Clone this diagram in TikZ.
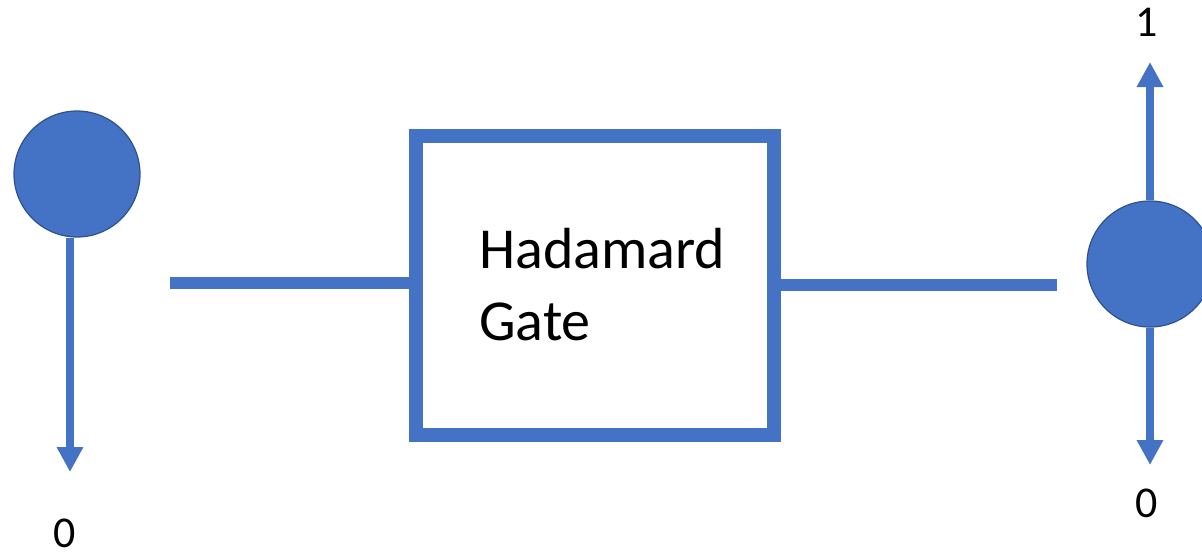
\documentclass[tikz,border=0pt]{standalone}
\usepackage{fontspec}
\setmainfont{Carlito}
\usetikzlibrary{arrows.meta}
\definecolor{qblue}{HTML}{4472C4}
\definecolor{qedge}{HTML}{2F528F}
\tikzset{
  qubit/.style={circle, fill=qblue, draw=qedge, line width=1.2pt, minimum size=126pt, inner sep=0pt},
  gatebox/.style={rectangle, draw=qblue, line width=14pt, minimum width=358pt, minimum height=299pt, inner sep=0pt},
  wire/.style={draw=qblue, line width=12pt},
  measure/.style={draw=qblue, line width=8pt, -{Triangle[length=25pt,width=25pt]}},
  lbl/.style={font=\fontsize{44}{52}\selectfont, inner sep=0pt}
}
\begin{document}
\begin{tikzpicture}[x=1pt,y=-1pt]
\clip (0,0) rectangle (1202,552);
\fill[white] (0,0) rectangle (1202,552);
% qubits
\node[qubit] (q0) at (77,174) {};
\node[qubit] (q1) at (1150,264) {};
% gate
\node[gatebox] (gate) at (595,285) {};
\node[anchor=base west, align=left, inner sep=0pt, font=\fontsize{58}{72}\selectfont] (gtext) at (479,340) {Hadamard\\Gate};
% wires
\coordinate (w0) at (170,283);
\coordinate (w1) at (1057,285);
\draw[wire] (w0) -- (w0 -| gate.west);
\draw[wire] (gate.east) -- (w1);
% measurement arrows
\coordinate (a0) at (70,472);
\coordinate (a1) at (1150,62);
\coordinate (a2) at (1150,465);
\draw[measure] (a0 |- q0.south) -- (a0);
\draw[measure] (q1.north) -- (a1);
\draw[measure] (q1.south) -- (a2);
% labels
\node[lbl] (l0) at (65,533) {0};
\node[lbl] (l1) at (1147,22) {1};
\node[lbl] (l2) at (1147,503) {0};
\end{tikzpicture}
\end{document}
